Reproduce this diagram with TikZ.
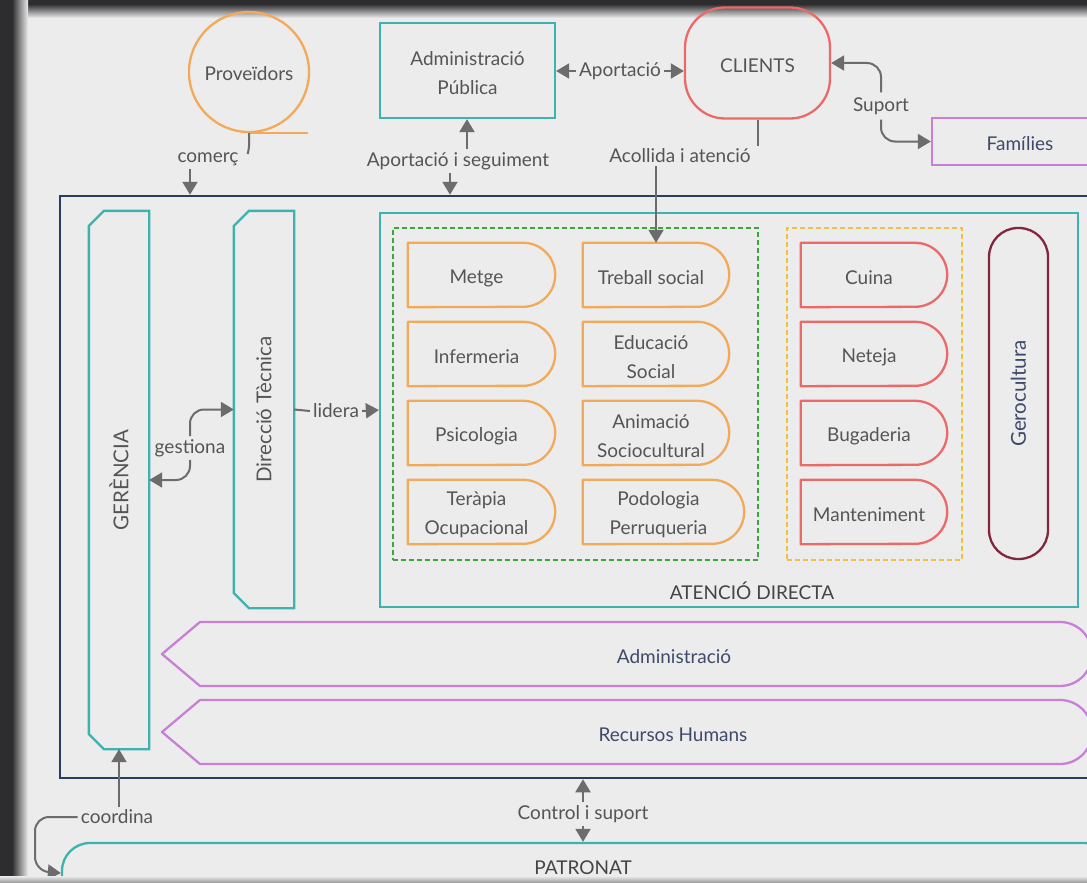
\documentclass[tikz,border=0pt]{standalone}
\usepackage{fontspec}
\setmainfont{Lato}
\usetikzlibrary{arrows.meta,calc}
\definecolor{bg}{RGB}{236,236,236}
\definecolor{framec}{RGB}{45,45,48}
\definecolor{shadowc}{RGB}{150,150,150}
\definecolor{tealc}{RGB}{62,178,175}
\definecolor{navyc}{RGB}{40,62,95}
\definecolor{orangec}{RGB}{242,170,90}
\definecolor{redc}{RGB}{236,105,105}
\definecolor{purplec}{RGB}{200,128,214}
\definecolor{greenc}{RGB}{62,165,62}
\definecolor{yellowc}{RGB}{240,192,70}
\definecolor{geroc}{RGB}{130,38,62}
\definecolor{txt}{RGB}{85,85,85}
\definecolor{txtd}{RGB}{68,68,68}
\definecolor{txtn}{RGB}{62,74,105}
\definecolor{arrc}{RGB}{108,108,108}
\newcommand\fs{\fontsize{19}{29}\selectfont}
\newcommand\fr{\fontsize{20.5}{24}\selectfont}
\newcommand\delaybox[6]{%
  \node[minimum width=#4, minimum height=64, inner sep=0] (#1) at (#2,#3) {};
  \draw[#5, line width=2.3pt, line join=round] (#1.north west) -- ([xshift=-32pt]#1.north east) arc[start angle=90, end angle=-90, x radius=32pt, y radius=32pt] -- (#1.south west) -- cycle;
  \node[inner sep=0, font=\fs, text=txt, align=center] (#1t) at ([shift={(-5,3)}]#1.center) {#6};}
\begin{document}
\begin{tikzpicture}[x=1pt,y=-1pt,
  bx/.style={line width=2.3pt, inner sep=0, font=\fs, text=txt, align=center},
  tx/.style={inner sep=0, font=\fs, text=txt, align=center},
  lbl/.style={font=\fs, text=txt, inner sep=3pt, fill=bg},
  ln/.style={draw=arrc, line width=2pt},
  arr/.style={draw=arrc, line width=2pt, -{Triangle[length=13pt,width=15pt]}},
  grp/.style={line width=2pt, dash pattern=on 5pt off 3pt}]
\useasboundingbox (0,0) rectangle (1087,883);
\fill[bg] (0,0) rectangle (1087,883);
\shade[top color=framec, bottom color=bg] (0,4) rectangle (1087,18);
\fill[framec] (0,0) rectangle (1087,4);
\shade[left color=framec, right color=bg] (12,0) rectangle (28,883);
\fill[framec] (0,0) rectangle (12,883);
\begin{scope}
\clip (0,0) rectangle (1087,883);
% top entities
\node[circle, draw=orangec, bx, minimum size=120] (prov) at (249,72) {};
\node[tx] (provt) at (249,74) {Proveïdors};
\draw[orangec, line width=2.3pt] (prov.south) -- ++(59,0);
\node[draw=tealc, bx, minimum width=175, minimum height=95] (apub) at (467.5,70.5) {};
\node[tx] (apubt) at (467.5,73) {Administració\\Pública};
\node[draw=redc, bx, rounded corners=40, minimum width=145, minimum height=111] (cli) at (757.5,63) {};
\node[tx] (clit) at (757.5,66) {CLIENTS};
\node[draw=purplec, bx, minimum width=176, minimum height=47] (fam) at (1020,141.5) {};
\node[tx, text=txtn] (famt) at (1020,144) {Famílies};
% organisation
\node[draw=navyc, line width=2.5pt, minimum width=1040, minimum height=582] (outer) at (580,487) {};
\node[bx, font=\fr, minimum width=58, minimum height=536] (ger) at (119,480) {\rotatebox{90}{GERÈNCIA}};
\draw[tealc, line width=2.3pt] ([yshift=-15pt]ger.north west) -- ([xshift=15pt]ger.north west) -- (ger.north east) -- (ger.south east) -- ([xshift=15pt]ger.south west) -- ([yshift=15pt]ger.south west) -- cycle;
\node[bx, font=\fr, minimum width=58, minimum height=395] (dt) at (264,409.5) {\rotatebox{90}{Direcció Tècnica}};
\draw[tealc, line width=2.3pt] ([yshift=-15pt]dt.north west) -- ([xshift=15pt]dt.north west) -- (dt.north east) -- (dt.south east) -- ([xshift=15pt]dt.south west) -- ([yshift=15pt]dt.south west) -- cycle;
\node[draw=tealc, bx, minimum width=698, minimum height=394] (aten) at (729,410) {};
\node[tx, text=txtd] (atenl) at (752,591) {ATENCIÓ DIRECTA};
\node[draw=greenc, grp, minimum width=365, minimum height=332] (grp1) at (575.5,394) {};
\node[draw=yellowc, grp, minimum width=175, minimum height=332] (grp2) at (874.5,394) {};
\delaybox{metge}{481.5}{275}{147}{orangec}{Metge}
\delaybox{inf}{481.5}{354}{147}{orangec}{Infermeria}
\delaybox{psi}{481.5}{433}{147}{orangec}{Psicologia}
\delaybox{ter}{481.5}{512}{147}{orangec}{Teràpia\\Ocupacional}
\delaybox{ts}{656}{275}{146}{orangec}{Treball social}
\delaybox{eds}{656}{354}{146}{orangec}{Educació\\Social}
\delaybox{ani}{656}{433}{146}{orangec}{Animació\\Sociocultural}
\delaybox{pod}{663.5}{512}{161}{orangec}{Podologia\\Perruqueria}
\delaybox{cui}{874}{275}{146}{redc}{Cuina}
\delaybox{net}{874}{354}{146}{redc}{Neteja}
\delaybox{bug}{874}{433}{146}{redc}{Bugaderia}
\delaybox{man}{874}{512}{146}{redc}{Manteniment}
\node[draw=geroc, bx, font=\fr, text=txtn, rounded corners=29, minimum width=59, minimum height=331] (gero) at (1018.5,393.5) {\rotatebox{90}{Gerocultura}};
\draw[purplec, line width=2.3pt, line join=round] (162,654) -- (200,622) -- (1060,622) arc[start angle=90, end angle=-90, radius=32pt] -- (200,686) -- cycle;
\node[tx, text=txtn] (admn) at (674,657) {Administració};
\draw[purplec, line width=2.3pt, line join=round] (162,732) -- (200,700) -- (1060,700) arc[start angle=90, end angle=-90, radius=32pt] -- (200,764) -- cycle;
\node[tx, text=txtn] (rhn) at (673,735) {Recursos Humans};
\node[draw=tealc, bx, rounded corners=28, minimum width=1050, minimum height=60] (pat) at (587,873) {};
\node[tx, text=txtd] (patn) at (583,868) {PATRONAT};
% labels
\node[lbl] (com) at (208,159) {comerç};
\node[lbl] (aps) at (458,161) {Aportació i seguiment};
\node[lbl] (ap) at (620,71) {Aportació};
\node[lbl] (aa) at (680,156) {Acollida i atenció};
\node[lbl, inner sep=5pt] (sup) at (881,106) {Suport};
\node[lbl] (ges) at (190,448) {gestiona};
\node[lbl] (lid) at (336,411) {lidera};
\node[lbl] (coo) at (117,817) {coordina};
\node[lbl] (cs) at (583,814) {Control i suport};
% connectors
\draw[ln] (prov.south) .. controls +(0,10) and +(2,-8) .. ([shift={(6,-5)}]com.east);
\draw[arr] ([xshift=-18pt]com.south) -- ([xshift=-18pt]com.south |- outer.north);
\draw[arr] ([xshift=9pt]aps.north) -- ([xshift=9pt]aps.north |- apub.south);
\draw[arr] ([xshift=-8pt]aps.south) -- ([xshift=-8pt]aps.south |- outer.north);
\draw[arr] (ap.west) -- (ap.west -| apub.east);
\draw[arr] (ap.east) -- (ap.east -| cli.west);
\draw[ln] (cli.south) -- (cli.south |- aa.north);
\draw[arr] (aa.south -| ts.north) -- (ts.north);
\draw[arr, rounded corners=14] (sup.north) -- (sup.north |- cli.east) -- (cli.east);
\draw[arr, rounded corners=14] (sup.south) -- (sup.south |- fam.west) -- (fam.west);
\draw[arr, rounded corners=14] (ges.north) -- (ges.north |- dt.west) -- (dt.west);
\draw[arr, rounded corners=14] (ges.south) -- (ges.south |- ger.east) -- (ger.east);
\draw[ln] (dt.east) -- (lid.west);
\draw[arr] (lid.east) -- (aten.west);
\draw[arr] (ger.south |- coo.north) -- (ger.south);
\draw[arr, rounded corners=14] (coo.west) -- (35,817) -- (35,871) -- (pat.west);
\draw[arr] (cs.north) -- (cs.north |- outer.south);
\draw[arr] (cs.south) -- (cs.south |- pat.north);
\end{scope}
\shade[top color=bg, bottom color=shadowc] (0,876) rectangle (1087,883);
\end{tikzpicture}
\end{document}
